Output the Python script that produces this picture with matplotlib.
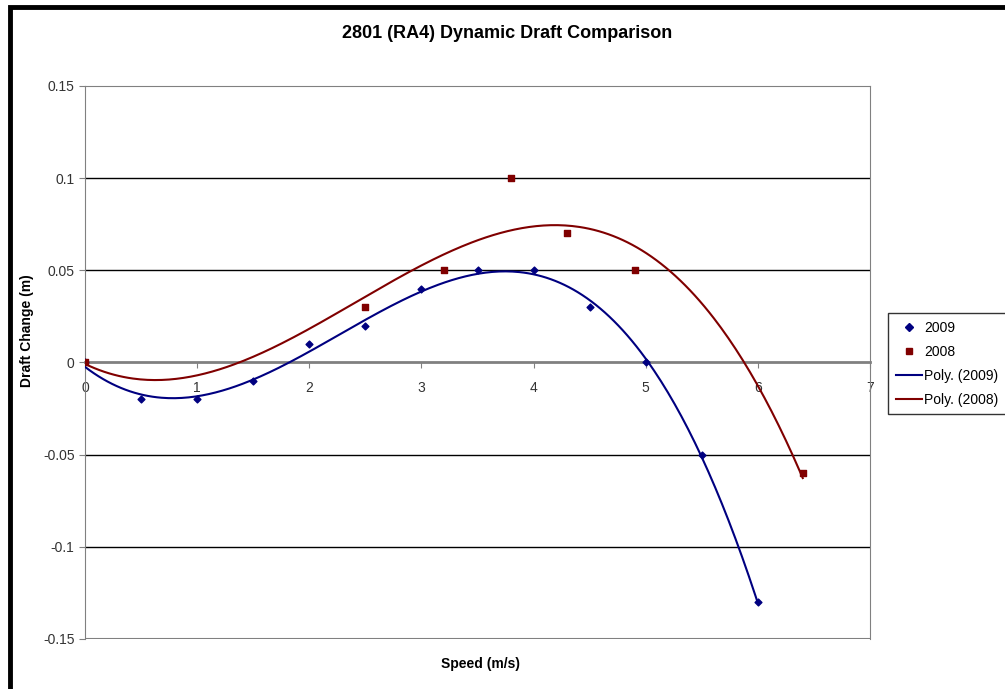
import numpy as np
import matplotlib
matplotlib.use('Agg')
import matplotlib.pyplot as plt
from matplotlib.patches import Rectangle
from matplotlib.lines import Line2D

plt.rcParams['font.family'] = ['Liberation Sans', 'DejaVu Sans']

speed_2009 = [0, 0.5, 1, 1.5, 2, 2.5, 3, 3.5, 4, 4.5, 5, 5.5, 6]
draft_2009 = [0, -0.02, -0.02, -0.01, 0.01, 0.02, 0.04, 0.05, 0.05, 0.03, 0, -0.05, -0.13]
speed_2008 = [0, 2.5, 3.2, 3.8, 4.3, 4.9, 6.4]
draft_2008 = [0, 0.03, 0.05, 0.1, 0.07, 0.05, -0.06]

blue = '#000080'
red = '#800000'

fig = plt.figure(figsize=(10.05, 6.89), dpi=100)
ax = fig.add_axes([0.0846, 0.0726, 0.7811, 0.8026])

# polynomial trendlines, as Excel does
for xs, ys, col in [(speed_2009, draft_2009, blue), (speed_2008, draft_2008, red)]:
    p = np.polyfit(xs, ys, 3)
    xx = np.linspace(min(xs), max(xs), 300)
    ax.plot(xx, np.polyval(p, xx), color=col, lw=1.5, zorder=3)

ax.scatter(speed_2009, draft_2009, marker='D', s=12, color=blue, zorder=4)
ax.scatter(speed_2008, draft_2008, marker='s', s=22, color=red, zorder=4)

ax.set_xlim(0, 7)
ax.set_ylim(-0.15, 0.15)
ax.set_yticks([-0.15, -0.1, -0.05, 0, 0.05, 0.1, 0.15])
ax.set_yticklabels(['-0.15', '-0.1', '-0.05', '0', '0.05', '0.1', '0.15'])
for y in [-0.1, -0.05, 0.05, 0.1]:
    ax.axhline(y, color='black', lw=1, zorder=1)

# x axis crosses at zero
ax.spines['bottom'].set_position(('data', 0))
ax.spines['bottom'].set_color('#808080')
ax.spines['bottom'].set_linewidth(2)
ax.spines['left'].set_color('#808080')
ax.spines['right'].set_color('#808080')
ax.spines['top'].set_color('#808080')
ax.axhline(-0.15, color='#808080', lw=1.5, zorder=1)
ax.set_xticks(range(8))
ax.tick_params(axis='x', direction='out', length=4, color='#808080', labelsize=10, labelcolor='#333333', pad=9)
ax.tick_params(axis='y', direction='out', length=4, color='#808080', labelsize=10, labelcolor='#333333')

fig.text(0.505, 0.952, '2801 (RA4) Dynamic Draft Comparison', ha='center', va='center',
         fontsize=13, fontweight='bold')
fig.text(0.478, 0.037, 'Speed (m/s)', ha='center', va='center', fontsize=10, fontweight='bold')
fig.text(0.027, 0.52, 'Draft Change (m)', ha='center', va='center', rotation=90, fontsize=10, fontweight='bold')

handles = [
    Line2D([], [], ls='', marker='D', ms=4, color=blue),
    Line2D([], [], ls='', marker='s', ms=5, color=red),
    Line2D([], [], color=blue, lw=1.5),
    Line2D([], [], color=red, lw=1.5),
]
leg = fig.legend(handles, ['2009', '2008', 'Poly. (2009)', 'Poly. (2008)'],
                 loc='upper left', bbox_to_anchor=(0.8836, 0.5457), fontsize=10,
                 frameon=True, fancybox=False, edgecolor='black', handlelength=1.9,
                 borderpad=0.55, labelspacing=0.72, handletextpad=0.15, borderaxespad=0)
leg.get_frame().set_linewidth(1)

# outer chart frame
fig.patches.append(Rectangle((0.01, -0.05), 1.2, 1.04, transform=fig.transFigure,
                             fill=False, edgecolor='black', lw=3.5))

fig.savefig('out.png', dpi=100)
